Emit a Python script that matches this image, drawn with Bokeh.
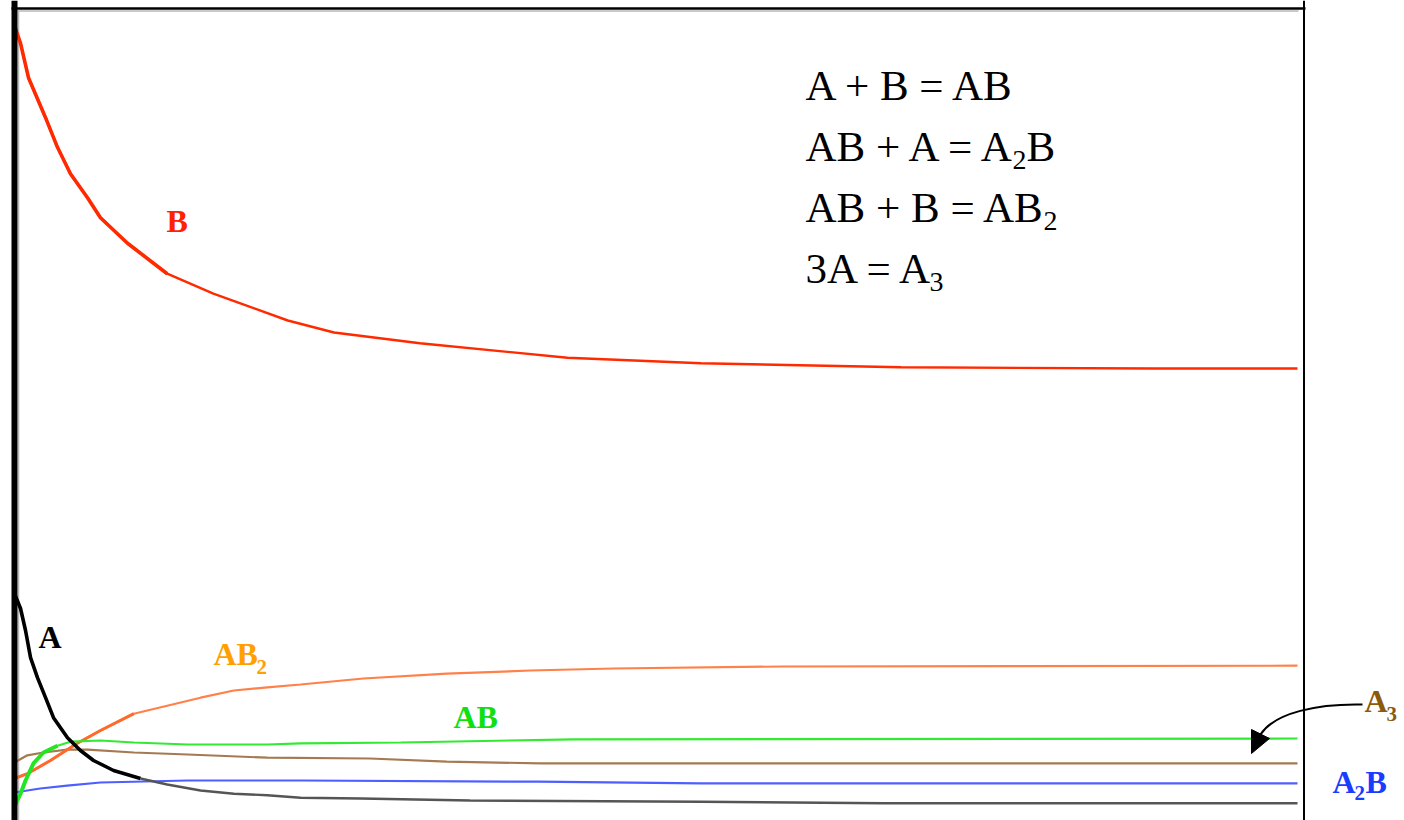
from bokeh.plotting import figure
from bokeh.models import Range1d, Span
from bokeh.core.properties import value
from bokeh.embed import file_html
from bokeh.resources import INLINE

# ---- data (time in arbitrary units 0..100, concentration in arbitrary units) ----
b_t = [0, 0.47, 1.09, 2.42, 3.35, 4.36, 5.69, 6.70, 8.81, 11.9, 15.5, 21.3, 24.9, 31.6, 43.1, 53.5, 69.1, 88.8, 100]
b_c = [99.1, 96.9, 92.6, 87.6, 83.9, 80.6, 77.6, 75.1, 71.9, 68.1, 65.6, 62.25, 60.75, 59.4, 57.6, 56.9, 56.4, 56.25, 56.25]

a_t = [0, 0.47, 0.86, 1.25, 1.79, 2.42, 3.04, 4.13, 5.14, 6.16, 7.72, 9.82, 11.9, 14.5, 17.1, 19.7, 22.3, 27.0, 35.5, 53.5, 67.7, 100]
a_c = [28.1, 26.25, 23.5, 20.1, 17.6, 15.1, 12.6, 10.1, 8.5, 7.25, 6.0, 5.0, 4.25, 3.5, 3.1, 2.9, 2.6, 2.5, 2.25, 2.1, 1.9, 1.9]

ab2_t = [0, 1.0, 2.8, 4.9, 6.7, 9.3, 11.9, 14.5, 17.1, 19.7, 22.3, 27.2, 33.7, 40.2, 46.7, 59.9, 100]
ab2_c = [5.0, 5.6, 7.25, 9.4, 11.0, 13.1, 14.1, 15.1, 16.0, 16.4, 16.75, 17.5, 18.1, 18.5, 18.75, 19.0, 19.1]

ab_t = [0, 0.47, 0.86, 1.48, 2.26, 3.35, 4.36, 6.7, 9.3, 13.5, 19.7, 22.3, 30.1, 43.6, 100]
ab_c = [1.5, 3.1, 4.75, 6.9, 8.25, 9.1, 9.6, 9.75, 9.5, 9.25, 9.25, 9.4, 9.5, 9.9, 10.0]

a3_t = [0, 1.0, 2.26, 4.1, 5.7, 9.3, 13.5, 19.7, 27.7, 33.7, 41.0, 100]
a3_c = [7.0, 7.9, 8.25, 8.6, 8.6, 8.25, 8.0, 7.6, 7.5, 7.1, 6.9, 6.9]

a2b_t = [0, 2.0, 4.1, 6.7, 13.5, 22.3, 40.8, 53.5, 100]
a2b_c = [3.25, 3.75, 4.1, 4.5, 4.75, 4.75, 4.6, 4.4, 4.4]

equations = ["A + B = AB", "AB + A = A", "AB + B = AB", "3A = A"]

# ---- figure ----
W, H = 1404, 820
PX_T = 12.83   # pixels per time unit
PX_C = 8.0     # pixels per concentration unit
X0 = 14        # page x of t=0
Y0 = 818       # page y of c=0


def tx(X):
    return (X - X0) / PX_T


def cy(Y):
    return (Y0 - Y) / PX_C


p = figure(width=W, height=H, output_backend="svg", toolbar_location=None,
           x_axis_type=None, y_axis_type=None,
           x_range=Range1d(tx(0), tx(W)), y_range=Range1d(cy(H), cy(0)),
           min_border=0, min_border_left=0, min_border_right=0,
           min_border_top=0, min_border_bottom=0)
p.outline_line_color = None
p.background_fill_color = "white"
p.border_fill_color = "white"

# box shading and borders
p.segment(x0=[tx(17)], y0=[cy(10.5)], x1=[tx(1298)], y1=[cy(10.5)], line_color="#b8b8b8", line_width=1.5)
p.segment(x0=[tx(18)], y0=[cy(10)], x1=[tx(18)], y1=[cy(820)], line_color="#b8b8b8", line_width=1.5)
p.segment(x0=[tx(11)], y0=[cy(8)], x1=[tx(1305)], y1=[cy(8)], line_color="black", line_width=2.5)
p.add_layout(Span(location=tx(14), dimension="height", line_color="black", line_width=6))
p.add_layout(Span(location=tx(1303.5), dimension="height", line_color="black", line_width=2))

# curves
p.line(a3_t, a3_c, line_color="#a57a52", line_width=2.2)
p.line(a2b_t, a2b_c, line_color="#4d5fff", line_width=2.2)
p.line(ab2_t, ab2_c, line_color="#ff8048", line_width=2.2)
p.line(ab2_t[:6], ab2_c[:6], line_color="#ff6a2a", line_width=3)
p.line(ab_t, ab_c, line_color="#33ea33", line_width=2.2)
p.line(ab_t[:6], ab_c[:6], line_color="#22e622", line_width=4)
p.line(a_t[11:], a_c[11:], line_color="#555555", line_width=2.4)
p.line(a_t[:12], a_c[:12], line_color="black", line_width=3.6)
p.line(b_t, b_c, line_color="#ff2a00", line_width=2.4)
p.line(b_t[:10], b_c[:10], line_color="#ff2a00", line_width=3.6)

serif = value("Liberation Serif")


def lab(X, Y, s, color, size, bold=True, shift=0):
    p.text(x=[tx(X)], y=[cy(Y - shift)], text=[s], text_font=serif,
           text_font_style="bold" if bold else "normal",
           text_font_size=size, text_color=color,
           text_align="left", text_baseline="alphabetic")


# series labels (shift compensates for baseline placement)
L, S = 12, 8
lab(166, 232, "B", "#ff2200", "32px", shift=L)
lab(38, 648, "A", "black", "32px", shift=L)
lab(213, 665, "AB", "#ffa000", "32px", shift=L)
lab(256, 674, "2", "#ffa000", "21px", shift=S)
lab(453, 728, "AB", "#10e010", "32px", shift=L)
lab(1364, 712, "A", "#8b5a0b", "32px", shift=L)
lab(1386, 721, "3", "#8b5a0b", "21px", shift=S)
lab(1332, 793, "A", "#1a3cff", "32px", shift=L)
lab(1354, 800, "2", "#1a3cff", "21px", shift=S)
lab(1365, 793, "B", "#1a3cff", "32px", shift=L)

# equations
E, ES = 14, 10
eq_base = [99, 160, 221, 282]
for s, yb in zip(equations, eq_base):
    lab(805, yb, s, "black", "43px", bold=False, shift=E)
lab(1012, 169, "2", "black", "28px", bold=False, shift=ES)
lab(1026, 160, "B", "black", "43px", bold=False, shift=E)
lab(1043, 230, "2", "black", "28px", bold=False, shift=ES)
lab(929, 291, "3", "black", "28px", bold=False, shift=ES)

# arrow from A3 label
p.bezier(x0=[tx(1362)], y0=[cy(704)], x1=[tx(1260)], y1=[cy(734)],
         cx0=[tx(1318)], cy0=[cy(703)], cx1=[tx(1274)], cy1=[cy(712)],
         line_color="black", line_width=2)
p.patch([tx(1251), tx(1251), tx(1269)], [cy(753), cy(729), cy(738)], color="black")

open("out.html", "w").write(file_html(p, INLINE))
